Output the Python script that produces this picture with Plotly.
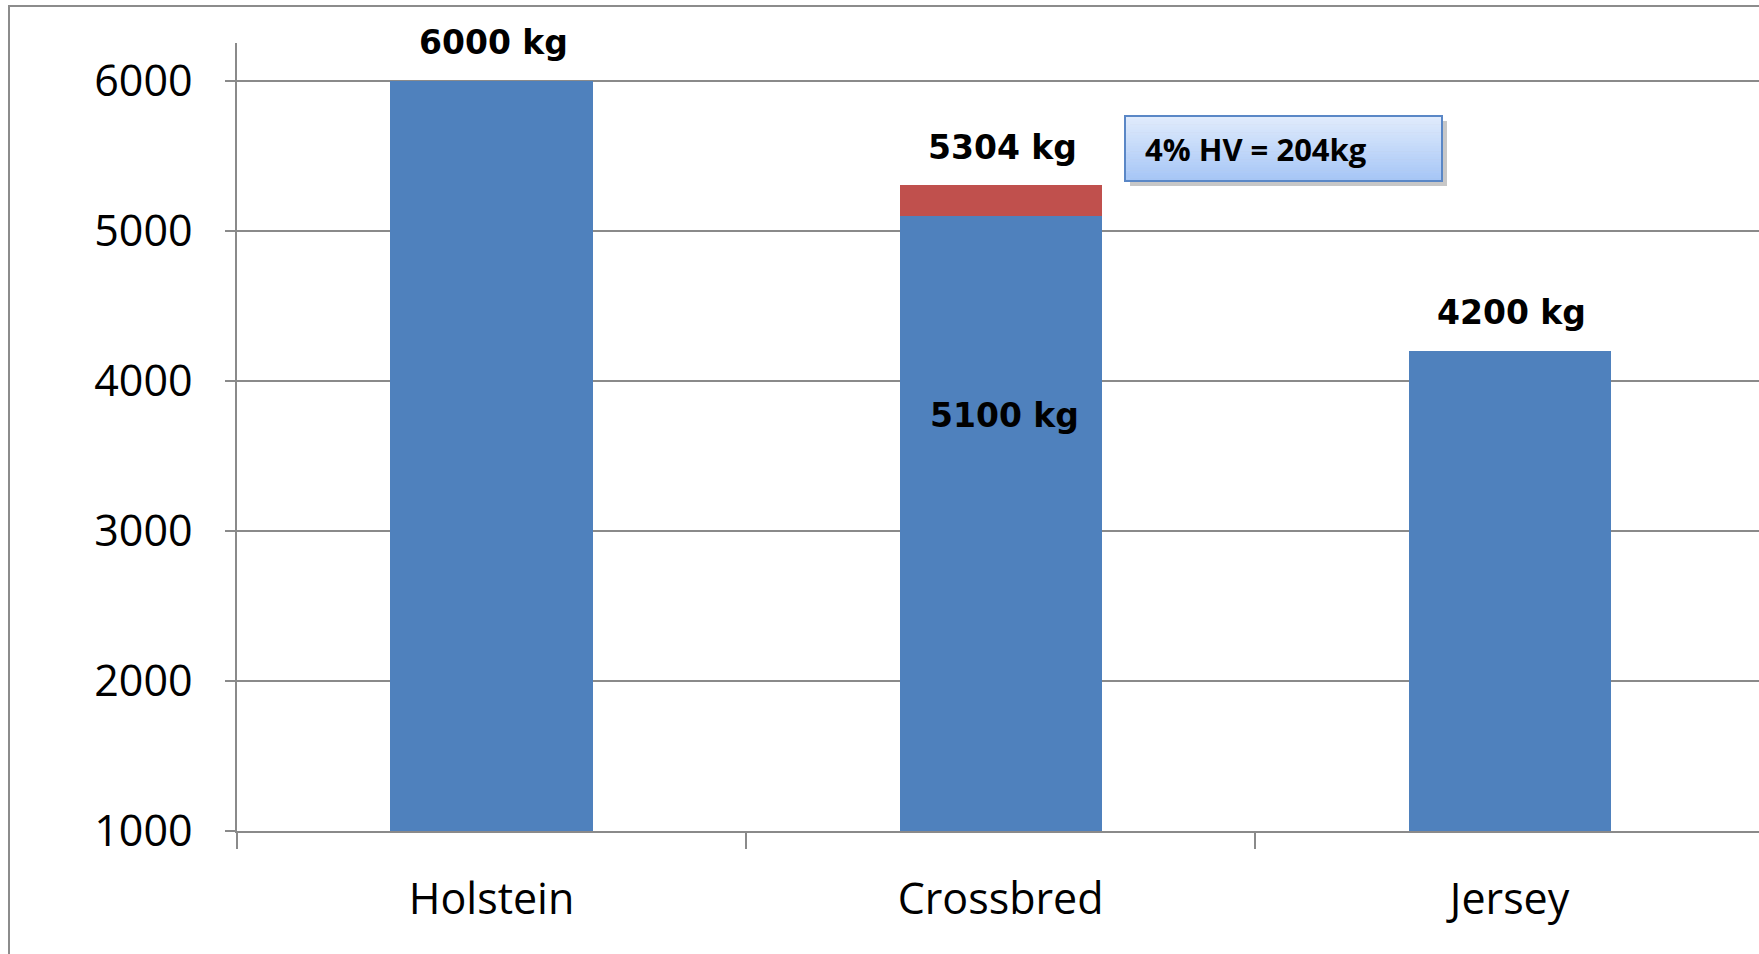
import plotly.graph_objects as go

# Milk yield per lactation by breed (kg)
breeds = ["Holstein", "Crossbred", "Jersey"]
base_yield = [6000, 5100, 4200]
hybrid_gain = [None, 204, None]
y_ticks = [1000, 2000, 3000, 4000, 5000, 6000]
gain_note = "4% HV = 204kg"

BLUE = "#4f81bd"
RED = "#c0504d"
GRID = "#8a8a8a"

W, H = 1759, 954
L, R, T, B = 237, 1759, 43, 831


def px_x(p):
    return (p - L) / (R - L)


def px_y(p):
    return (B - p) / (B - T)


fig = go.Figure()
fig.add_trace(go.Bar(
    x=breeds, y=base_yield, marker=dict(color=BLUE, line=dict(width=0)),
    hoverinfo="skip", showlegend=False,
))
fig.add_trace(go.Bar(
    x=breeds, y=hybrid_gain, marker=dict(color=RED, line=dict(width=0)),
    hoverinfo="skip", showlegend=False,
))

label_font = dict(family="DejaVu Sans", size=33, color="black")
annotations = []
for name, b, g in zip(breeds, base_yield, hybrid_gain):
    total = b + (g or 0)
    annotations.append(dict(
        x=name, y=total, xref="x", yref="y", text=f"<b>{total} kg</b>",
        showarrow=False, yanchor="middle", yshift=38, xshift=2, font=label_font,
    ))
    if g:
        annotations.append(dict(
            x=name, y=b, xref="x", yref="y", text=f"<b>{b} kg</b>",
            showarrow=False, yanchor="middle", yshift=-200, xshift=4,
            font=label_font,
        ))

# Callout box for the hybrid-vigour gain
bx0, bx1, by0, by1 = 1125, 1442, 116, 181
shapes = []
shapes.append(dict(
    type="rect", xref="paper", yref="paper",
    x0=px_x(bx0 + 5), x1=px_x(bx1 + 5), y0=px_y(by1 + 5), y1=px_y(by0 + 5),
    fillcolor="rgba(0,0,0,0.22)", line=dict(width=0), layer="above",
))
steps = 24
top_rgb = (224, 235, 252)
bot_rgb = (166, 198, 246)
for i in range(steps):
    t = i / (steps - 1)
    c = tuple(round(top_rgb[k] + (bot_rgb[k] - top_rgb[k]) * t) for k in range(3))
    ya = by0 + (by1 - by0) * i / steps
    yb = by0 + (by1 - by0) * (i + 1) / steps
    shapes.append(dict(
        type="rect", xref="paper", yref="paper",
        x0=px_x(bx0), x1=px_x(bx1), y0=px_y(yb + 0.5), y1=px_y(ya),
        fillcolor="rgb(%d,%d,%d)" % c, line=dict(width=0), layer="above",
    ))
shapes.append(dict(
    type="rect", xref="paper", yref="paper",
    x0=px_x(bx0), x1=px_x(bx1), y0=px_y(by1), y1=px_y(by0),
    fillcolor="rgba(0,0,0,0)", line=dict(color="#5a87c6", width=2), layer="above",
))
annotations.append(dict(
    x=px_x(bx0 + 18), y=px_y((by0 + by1) / 2), xref="paper", yref="paper",
    text=f"<b>{gain_note}</b>", showarrow=False, xanchor="left", yanchor="middle",
    font=dict(family="Open Sans", size=31, color="black"),
))

# Outer chart frame
shapes.append(dict(
    type="rect", xref="paper", yref="paper",
    x0=px_x(9), x1=px_x(1775), y0=px_y(975), y1=px_y(6),
    fillcolor="rgba(0,0,0,0)", line=dict(color="#8c8c8c", width=2), layer="below",
))

fig.update_layout(
    width=W, height=H,
    margin=dict(l=L, r=W - R, t=T, b=H - B, pad=0),
    barmode="stack", bargap=0.603,
    plot_bgcolor="white", paper_bgcolor="white",
    font=dict(family="Open Sans", size=43, color="black"),
    annotations=annotations, shapes=shapes,
    xaxis=dict(
        type="category", range=[-0.5, 2.49], tickson="boundaries",
        ticks="outside", ticklen=16, tickcolor=GRID, tickwidth=1.5,
        showline=True, linecolor=GRID, linewidth=1.5, showgrid=False,
        ticklabelstandoff=30, fixedrange=True,
    ),
    yaxis=dict(
        range=[1000, 6253], tickvals=y_ticks, ticks="outside", ticklen=10,
        tickcolor=GRID, tickwidth=1.5, showline=True, linecolor=GRID,
        linewidth=1.5, showgrid=True, gridcolor=GRID, gridwidth=1.5,
        zeroline=False, ticklabelstandoff=24, fixedrange=True,
    ),
)

fig.write_html("out.html", config={"displayModeBar": False})
